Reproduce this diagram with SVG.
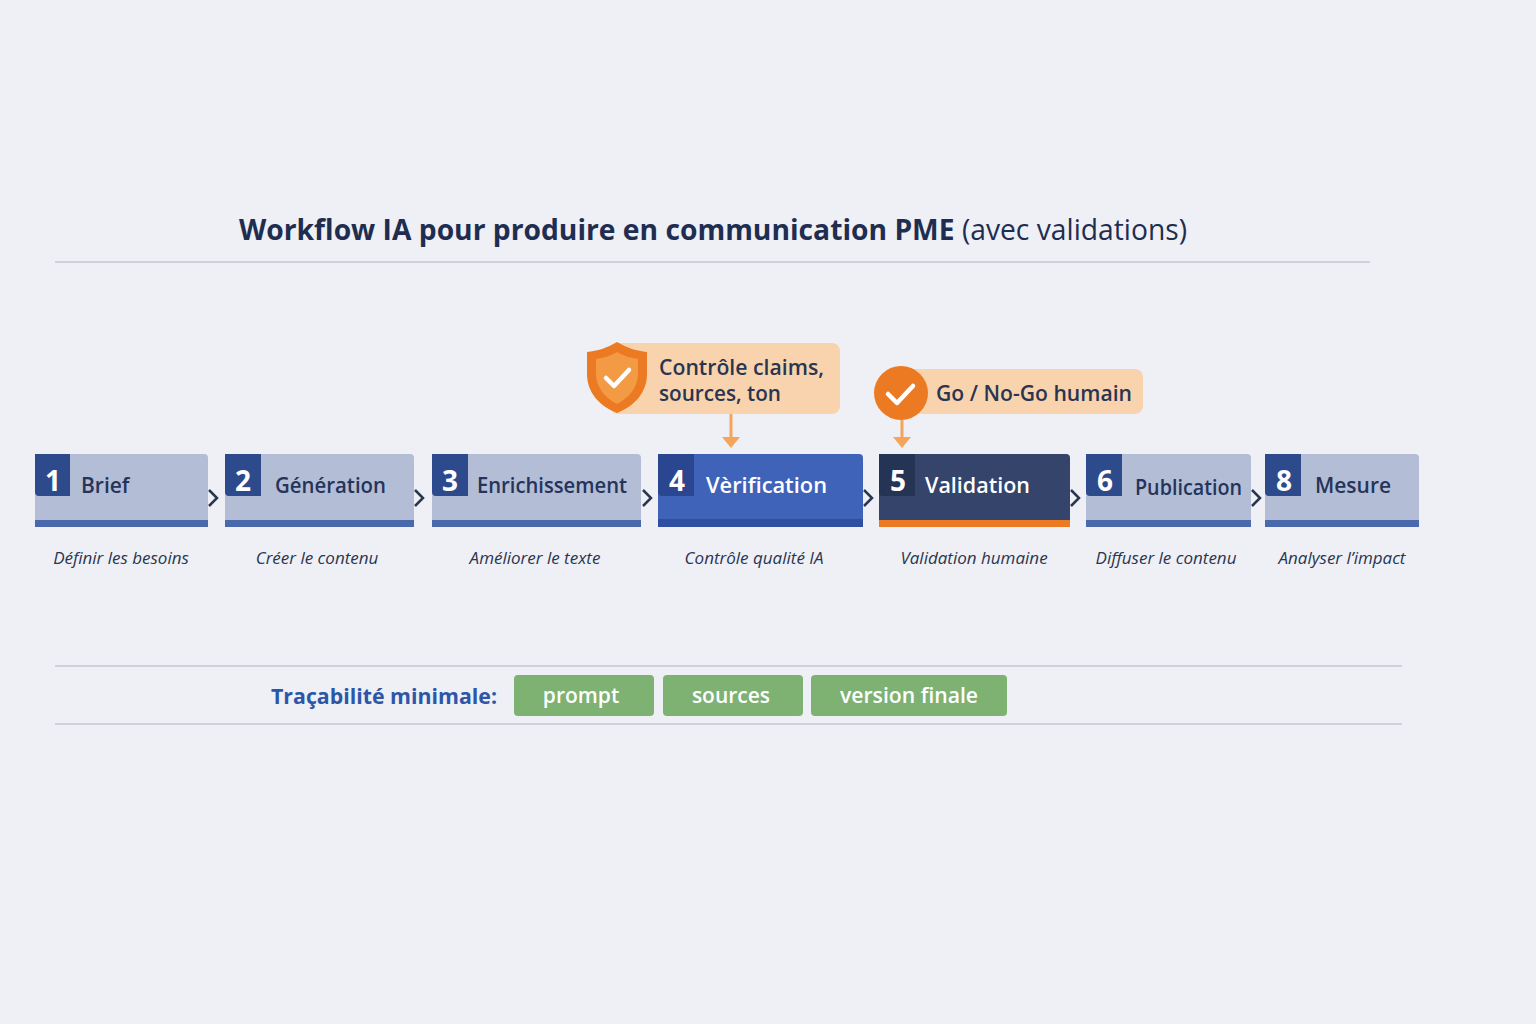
<svg xmlns="http://www.w3.org/2000/svg" width="1536" height="1024" viewBox="0 0 1536 1024">
<defs>
<style>
text{font-family:"Open Sans","Liberation Sans",sans-serif}
.lt{fill:#b3bdd5}.ltb{fill:#4a69ad}.tab{fill:#2d4a8c}
.num{font-size:28px;font-weight:700;fill:#fff}
.lbl{font-size:21px;font-weight:600;fill:#24345a}
.sub{font-size:17px;font-style:italic;fill:#2a3550;text-anchor:middle}
.chev{fill:none;stroke:#2a3550;stroke-width:2.5}
.call{fill:#f9d3ae}
.ct{font-size:21px;font-weight:600;fill:#2a3550}
.tag{fill:#7db273}
.tt{font-size:21px;font-weight:600;fill:#fff;text-anchor:middle}
</style>
</defs>
<rect width="1536" height="1024" fill="#eef0f6"/>
<text x="713" y="240" text-anchor="middle" font-size="29" font-weight="700" fill="#1f2d50" textLength="948" lengthAdjust="spacingAndGlyphs">Workflow IA pour produire en communication PME <tspan font-weight="400">(avec validations)</tspan></text>
<line x1="55" y1="262" x2="1370" y2="262" stroke="#c4c8d2" stroke-width="1.5"/>

<g id="n1"><rect x="35" y="454" width="173" height="73" rx="4" class="lt"/><rect x="35" y="520" width="173" height="7" class="ltb"/><path d="M35 454h35v42h-31a4 4 0 0 1-4-4z" class="tab"/><text x="53" y="491" class="num" text-anchor="middle">1</text><text x="81" y="493" class="lbl">Brief</text><text x="121" y="564" class="sub">Définir les besoins</text></g>
<g id="n2"><rect x="225" y="454" width="189" height="73" rx="4" class="lt"/><rect x="225" y="520" width="189" height="7" class="ltb"/><path d="M225 454h36v42h-32a4 4 0 0 1-4-4z" class="tab"/><text x="243" y="491" class="num" text-anchor="middle">2</text><text x="275" y="493" class="lbl" textLength="111" lengthAdjust="spacingAndGlyphs">Génération</text><text x="317" y="564" class="sub">Créer le contenu</text></g>
<g id="n3"><rect x="432" y="454" width="209" height="73" rx="4" class="lt"/><rect x="432" y="520" width="209" height="7" class="ltb"/><path d="M432 454h36v42h-32a4 4 0 0 1-4-4z" class="tab"/><text x="450" y="491" class="num" text-anchor="middle">3</text><text x="477" y="493" class="lbl" textLength="150" lengthAdjust="spacingAndGlyphs">Enrichissement</text><text x="535" y="564" class="sub">Améliorer le texte</text></g>
<g id="n4"><rect x="658" y="454" width="205" height="73" rx="4" fill="#3f63b9"/><rect x="658" y="519" width="205" height="8" fill="#2f4fa0"/><path d="M658 454h36v42h-32a4 4 0 0 1-4-4z" fill="#2a4690"/><text x="677" y="491" class="num" text-anchor="middle">4</text><text x="706" y="493" class="lbl" style="fill:#fff" textLength="121" lengthAdjust="spacingAndGlyphs">Vèrification</text><text x="754" y="564" class="sub">Contrôle qualité IA</text></g>
<g id="n5"><rect x="879" y="454" width="191" height="73" rx="4" fill="#34446a"/><rect x="879" y="520" width="191" height="7" fill="#ec7a22"/><path d="M879 454h36v42h-32a4 4 0 0 1-4-4z" fill="#253355"/><text x="898" y="491" class="num" text-anchor="middle">5</text><text x="925" y="493" class="lbl" style="fill:#fff" textLength="105" lengthAdjust="spacingAndGlyphs">Validation</text><text x="974" y="564" class="sub">Validation humaine</text></g>
<g id="n6"><rect x="1086" y="454" width="165" height="73" rx="4" class="lt"/><rect x="1086" y="520" width="165" height="7" class="ltb"/><path d="M1086 454h36v42h-32a4 4 0 0 1-4-4z" class="tab"/><text x="1105" y="491" class="num" text-anchor="middle">6</text><text x="1135" y="495" class="lbl" textLength="107" lengthAdjust="spacingAndGlyphs">Publication</text><text x="1166" y="564" class="sub">Diffuser le contenu</text></g>
<g id="n8"><rect x="1265" y="454" width="154" height="73" rx="4" class="lt"/><rect x="1265" y="520" width="154" height="7" class="ltb"/><path d="M1265 454h36v42h-32a4 4 0 0 1-4-4z" class="tab"/><text x="1284" y="491" class="num" text-anchor="middle">8</text><text x="1315" y="493" class="lbl" textLength="76" lengthAdjust="spacingAndGlyphs">Mesure</text><text x="1342" y="564" class="sub">Analyser l’impact</text></g>

<g id="c1"><rect x="610" y="343" width="230" height="71" rx="8" class="call"/><path d="M617 342c-10 6-20 9-30 10v22c0 18 12 32 30 39c18-7 30-21 30-39v-22c-10-1-20-4-30-10z" fill="#ec7a22"/><path d="M617 352c-7 4-14 6-21 7v15c0 13 9 24 21 30c12-6 21-17 21-30v-15c-7-1-14-3-21-7z" fill="#f39a45"/><path d="M606 378l8 8l15-16" fill="none" stroke="#fff" stroke-width="4.5" stroke-linecap="round" stroke-linejoin="round"/><text x="659" y="375" class="ct" textLength="165" lengthAdjust="spacingAndGlyphs">Contrôle claims,</text><text x="659" y="401" class="ct" textLength="122" lengthAdjust="spacingAndGlyphs">sources, ton</text></g>
<g id="c2"><rect x="900" y="369" width="243" height="45" rx="8" class="call"/><circle cx="901" cy="393" r="27" fill="#ec7a22"/><path d="M888 394l9 9l16-17" fill="none" stroke="#fff" stroke-width="4.5" stroke-linecap="round" stroke-linejoin="round"/><text x="936" y="401" class="ct" textLength="196" lengthAdjust="spacingAndGlyphs">Go / No-Go humain</text></g>

<g id="connectors">
<path d="M731 414v24" stroke="#f5a55a" stroke-width="3"/><path d="M722 437h18l-9 11z" fill="#f5a55a"/>
<path d="M902 420v18" stroke="#f5a55a" stroke-width="3"/><path d="M893 437h18l-9 11z" fill="#f5a55a"/>
<path class="chev" d="M209 490l8 8l-8 8"/>
<path class="chev" d="M415 490l8 8l-8 8"/>
<path class="chev" d="M643 490l8 8l-8 8"/>
<path class="chev" d="M864 490l8 8l-8 8"/>
<path class="chev" d="M1071 490l8 8l-8 8"/>
<path class="chev" d="M1252 490l8 8l-8 8"/>
</g>

<g id="trace">
<line x1="55" y1="666" x2="1402" y2="666" stroke="#c4c8d2" stroke-width="1.5"/>
<line x1="55" y1="724" x2="1402" y2="724" stroke="#c4c8d2" stroke-width="1.5"/>
<text x="497" y="704" text-anchor="end" font-size="22" font-weight="700" fill="#2d56a8" textLength="226" lengthAdjust="spacingAndGlyphs">Traçabilité minimale:</text>
<rect x="514" y="675" width="140" height="41" rx="4" class="tag"/><text x="581" y="703" class="tt">prompt</text>
<rect x="663" y="675" width="140" height="41" rx="4" class="tag"/><text x="731" y="703" class="tt">sources</text>
<rect x="811" y="675" width="196" height="41" rx="4" class="tag"/><text x="909" y="703" class="tt" textLength="138" lengthAdjust="spacingAndGlyphs">version finale</text>
</g>
</svg>
